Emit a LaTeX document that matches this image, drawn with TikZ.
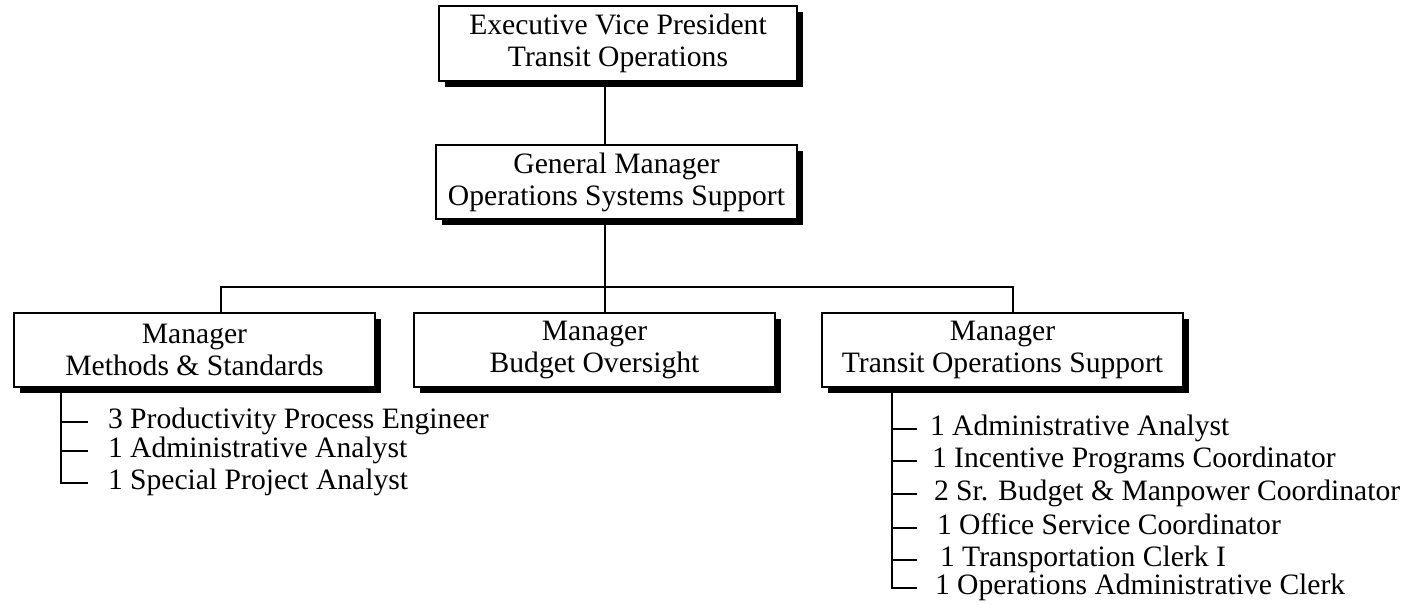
\documentclass[tikz,border=0pt]{standalone}
\usepackage{fontspec}
\setmainfont{Liberation Serif}
\usetikzlibrary{positioning, shadows}

\begin{document}
\begin{tikzpicture}[
    x=0.5pt, y=-0.5pt,
    line width=1pt,
    box/.style={rectangle, draw, fill=white, align=center, inner sep=0pt,
        minimum width=180.5pt, minimum height=37pt,
        font=\fontsize{14.8}{16}\selectfont,
        drop shadow={shadow xshift=3pt, shadow yshift=-3pt, opacity=1, fill=black}},
    post/.style={anchor=base west, inner sep=0pt, outer xsep=#1,
        text height=10.5pt, text depth=4.5pt,
        font=\fontsize{14.8}{16}\selectfont},
    post/.default=10pt
]
\useasboundingbox (0,0) rectangle (1416,604);

% Nodes
\node[box, minimum width=179pt, minimum height=37.5pt] (evp) at (618,43.5) {Executive Vice President\\Transit Operations};
\node[box] (gm) at (616.5,182) {General Manager\\Operations Systems Support};
\node[box] (mms) at (194.5,350) {Manager\\Methods \& Standards};
\node[box] (mbo) at (594.5,350) {Manager\\Budget Oversight};
\node[box] (tos) at (1002.5,350) {Manager\\Transit Operations Support};

% Where the lines run
\coordinate (spine) at (605,0);
\coordinate (bus) at (0,287);
\coordinate (dropL) at (221,0);
\coordinate (dropR) at (1013,0);
\coordinate (barL) at (61,0);
\coordinate (barR) at (892,0);

% Staff under Methods & Standards
\foreach \txt/\yb [count=\i] in {3 Productivity Process Engineer/428,
    1 Administrative Analyst/457, 1 Special Project Analyst/489}
    \node[post] (ms\i) at (88,\yb) {\txt};

% Staff under Transit Operations Support
\foreach \txt/\yb/\gap [count=\i] in {1 Administrative Analyst/435/6.5pt,
    1 Incentive Programs Coordinator/467/7.5pt,
    2 Sr. Budget \& Manpower Coordinator/500/8.5pt,
    1 Office Service Coordinator/534/10pt,
    1 Transportation Clerk I/566/11.5pt,
    1 Operations Administrative Clerk/594/9pt}
    \node[post=\gap] (ts\i) at (917,\yb) {\txt};

% Lines
\draw (evp.south -| spine) -- (gm.north -| spine);
\draw (gm.south -| spine) -- (mbo.north -| spine);
\draw (mms.north -| dropL) |- (bus -| spine) -| (tos.north -| dropR);

\draw (mms.south -| barL) |- (ms3.west);
\foreach \i in {1,2}
    \draw (ms\i.west -| barL) -- (ms\i.west);

\draw (tos.south -| barR) |- (ts6.west);
\foreach \i in {1,...,5}
    \draw (ts\i.west -| barR) -- (ts\i.west);

\end{tikzpicture}
\end{document}
